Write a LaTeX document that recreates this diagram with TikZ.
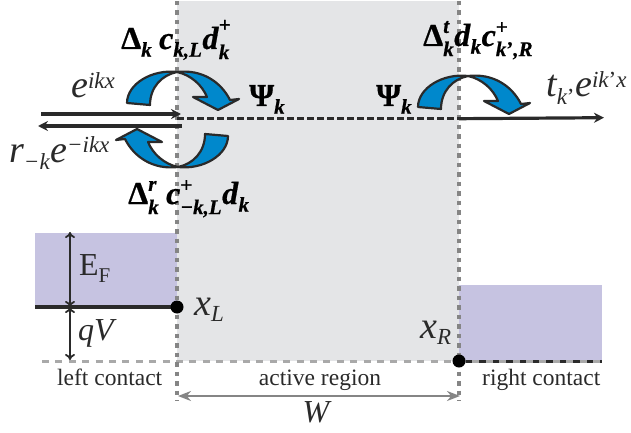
\documentclass[tikz,border=0pt]{standalone}
\usepackage{amsmath}
\usepackage{fontspec}
\setmainfont{Liberation Serif}[BoldFeatures={FakeBold=0.7},BoldItalicFeatures={FakeBold=0.7}]
\usetikzlibrary{arrows.meta}
\DeclareMathSizes{38}{38}{23}{18}
\DeclareMathSizes{32}{32}{21}{16}
\definecolor{hopblue}{HTML}{0088CC}
\definecolor{inktone}{HTML}{2A2A2A}
\definecolor{activegray}{HTML}{E4E5E7}
\definecolor{contactlilac}{HTML}{C6C3E1}
\definecolor{dotgray}{HTML}{858585}
\definecolor{levelgray}{HTML}{A9A9A9}
\newcommand{\mi}[1]{\textit{#1}}
\newcommand{\bmi}[1]{\textbf{\textit{#1}}}
\newcommand{\dn}[1]{\text{\raisebox{-4pt}{#1}}}
\newcommand{\up}[1]{\text{\raisebox{3pt}{#1}}}
\tikzset{
	hopline/.style={draw=inktone,line width=2.2pt,fill=hopblue,line join=round},
	pics/hop/.style={code={
		\path [hopline] (-50,31) .. controls (-50,12) and (-25,-3) .. (0,0) .. controls (-15,3) and (-27,15) .. (-27,33) -- cycle;
		\path [hopline] (0,0) .. controls (25,-3) and (44,10) .. (53,28) -- (62,27) -- (41,38) -- (16,25) -- (30,25) .. controls (25,13) and (14,3) .. (0,0) -- cycle;
	}},
	boundary/.style={dotgray,line width=4.5pt,dash pattern=on 4.5pt off 5pt},
	levelline/.style={levelgray,line width=3.5pt,dash pattern=on 7pt off 6.4pt},
	wave/.style={inktone,line width=3.2pt,-{Stealth[length=10pt,width=10pt]}},
	gapline/.style={inktone,line width=1.8pt,<->,>={To[length=6pt,width=10pt]}},
	big/.style={inktone,font=\fontsize{38}{44}\selectfont,inner sep=0pt},
	op/.style={black,font=\fontsize{32}{38}\selectfont,inner sep=0pt},
	regionname/.style={inktone,font=\fontsize{23.5}{28}\selectfont,inner sep=0pt},
	symbolname/.style={inktone,font=\fontsize{32}{38}\selectfont,inner sep=0pt}
}
\begin{document}
\begin{tikzpicture}[x=1pt,y=-1pt]
	\useasboundingbox (0,0) rectangle (631,433);
	
	% regions
	\fill [activegray] (177,1) rectangle (459,361);
	\fill [contactlilac] (35,233) rectangle (177,307);
	\fill [contactlilac] (459,285) rectangle (602,361);
	
	\coordinate (topL) at (177,1);
	\coordinate (botL) at (177,401);
	\coordinate (topR) at (459,1);
	\coordinate (botR) at (459,401);
	\coordinate (fermiL) at (35,307);
	\coordinate (fermiEnd) at (177,307);
	\coordinate (fermiTop) at (70,232);
	\coordinate (fermiMid) at (70,307);
	\coordinate (baseL) at (70,360);
	\coordinate (levelL) at (42,361.5);
	\coordinate (levelR) at (459,361.5);
	\coordinate (contactR) at (602,361.5);
	\coordinate (widthL) at (178,396);
	\coordinate (widthR) at (460,396);
	\coordinate (inA) at (41,114);
	\coordinate (inB) at (181,114);
	\coordinate (backA) at (182,126);
	\coordinate (backB) at (38,126);
	\coordinate (psiL) at (177,118.7);
	\coordinate (psiR) at (459,118.7);
	\coordinate (outB) at (604,117.7);
	
	% levels
	\draw [levelline] (levelL) -- (levelR);
	\draw [inktone,line width=3.5pt] (levelR) -- (contactR);
	\draw [levelline] (levelR) -- (contactR);
	\draw [inktone,line width=3.5pt] (fermiL) -- (fermiEnd);
	\draw [boundary] (topL) -- (botL);
	\draw [boundary] (topR) -- (botR);
	\node [circle,fill=black,minimum size=13pt,inner sep=0pt] (xL) at (177,307) {};
	\node [circle,fill=black,minimum size=13pt,inner sep=0pt] (xR) at (459,361) {};
	
	\draw [gapline] (fermiTop) -- (fermiMid);
	\draw [gapline] (fermiMid) -- (baseL);
	\draw [dotgray,line width=2.5pt,{Stealth[length=13pt,width=10pt]}-{Stealth[length=13pt,width=10pt]}] (widthL) -- (widthR);
	
	% waves
	\draw [wave] (inA) -- (inB);
	\draw [wave] (backA) -- (backB);
	\draw [inktone,line width=3pt,dash pattern=on 6.5pt off 3.5pt] (psiL) -- (psiR);
	\draw [wave] (psiR) -- (outB);
	
	% hops
	\pic at (177,72) {hop};
	\pic at (468,76) {hop};
	\pic [rotate=180] at (178,167) {hop};
	
	% labels
	\node [big,anchor=base west] (inWave) at (71,98) {$\mi{e}^{\mi{ikx}}$};
	\node [big,anchor=base west] (backWave) at (9,162) {$\mi{r}_{\mi{−k}}\mi{e}^{\mi{−ikx}}$};
	\node [big,anchor=base west] (outWave) at (546,97) {$\mi{t}_{\mi{k}\textrm{'}}\mi{e}^{\mi{ik}\textrm{'}\mi{x}}$};
	\node [op,anchor=base west] (opIn) at (121,49) {$\textbf{Δ}_{\dn{\bmi{k}}}\;\bmi{c}_{\dn{\bmi{k,L}}}\bmi{d}_{\dn{\bmi{k}}}^{\up{\textbf{+}}}$};
	\node [op,anchor=base west] (opBack) at (128,204) {$\textbf{Δ}_{\dn{\bmi{k}}}^{\bmi{r}}\;\bmi{c}_{\dn{\bmi{−k,L}}}^{\up{\textbf{+}}}\bmi{d}_{\dn{\bmi{k}}}$};
	\node [op,anchor=base west] (opOut) at (423,46) {$\textbf{Δ}_{\dn{\bmi{k}}}^{\bmi{t}}\bmi{d}_{\dn{\bmi{k}}}\bmi{c}_{\dn{\bmi{k}\textbf{'}\bmi{,R}}}^{\up{\textbf{+}}}$};
	\node [op,anchor=base west] (psiA) at (249,106) {$\textbf{Ψ}_{\dn{\bmi{k}}}$};
	\node [op,anchor=base west] (psiB) at (376,106) {$\textbf{Ψ}_{\dn{\bmi{k}}}$};
	\node [symbolname,anchor=base west] (fermiText) at (79,275) {E$_{\dn{F}}$};
	\node [symbolname,anchor=base west] (qvText) at (78,340) {$\mi{qV}$};
	\node [big,anchor=base west] (xLtext) at (194,315) {$\mi{x}_{\mi{L}}$};
	\node [big,anchor=base west] (xRtext) at (420,338) {$\mi{x}_{\mi{R}}$};
	\node [regionname,anchor=base west] (leftText) at (57,385) {left contact};
	\node [regionname,anchor=base] (activeText) at (320,385) {active region};
	\node [regionname,anchor=base west] (rightText) at (482,385) {right contact};
	\node [symbolname,anchor=base] (widthText) at (316,422) {$\mi{W}$};
	
\end{tikzpicture}
\end{document}
